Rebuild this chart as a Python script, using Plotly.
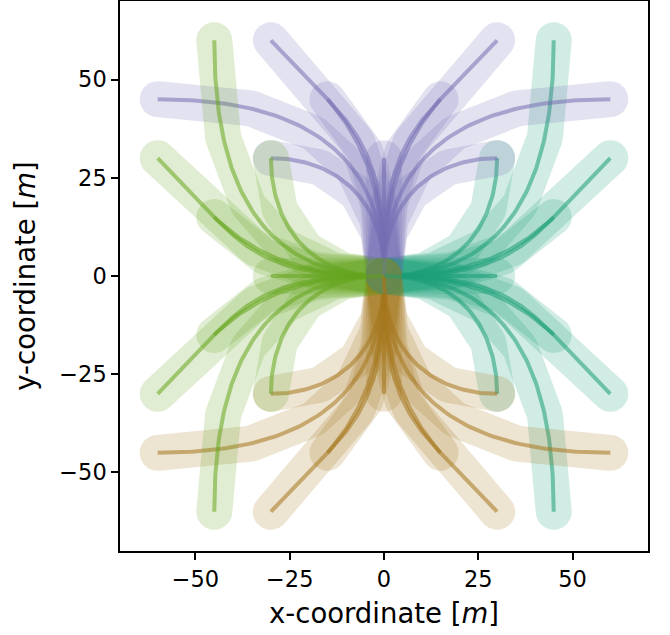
import numpy as np
import plotly.graph_objects as go

# ---- data (start position [m] and initial heading [deg]) ----
# purple group: paths entering the origin from above (final heading south)
purple_x = [-60, -30, -15, -30, 0, 30, 15, 60, 30]
purple_y = [45, 60, 45, 30, 30, 60, 45, 45, 30]
purple_heading = [0, -45, -45, 0, -90, -135, -135, 180, 180]

# green group: paths entering from the left (final heading east)
green_x = [-45, -60, -45, -30, -30, -45, -60, -45, -30]
green_y = [60, 30, 15, 30, 0, -15, -30, -60, -30]
green_heading = [-90, -45, -45, -90, 0, 45, 45, 90, 90]

# teal group: paths entering from the right (final heading west)
teal_x = [45, 60, 45, 30, 30, 45, 60, 45, 30]
teal_y = [60, 30, 15, 30, 0, -15, -30, -60, -30]
teal_heading = [-90, -135, -135, -90, 180, 135, 135, 90, 90]

# brown group: paths entering from below (final heading north)
brown_x = [-60, -30, -15, -30, 0, 30, 15, 60, 30]
brown_y = [-45, -60, -45, -30, -30, -60, -45, -45, -30]
brown_heading = [0, 45, 45, 0, 90, 135, 135, 180, 180]

group_names = ["purple", "green", "teal", "brown"]
group_final_heading = [-90, 0, 180, 90]
group_colors = [(117, 112, 179), (102, 166, 30), (27, 158, 119), (166, 118, 29)]

tick_vals = [-50, -25, 0, 25, 50]
tick_text = ["\u221250", "\u221225", "0", "25", "50"]

groups = [
    (purple_x, purple_y, purple_heading),
    (green_x, green_y, green_heading),
    (teal_x, teal_y, teal_heading),
    (brown_x, brown_y, brown_heading),
]


def path_xy(x0, y0, h0, h1, n=80):
    """Cubic Bezier from the start pose to the origin with final heading h1."""
    d = np.hypot(x0, y0)
    a = 0.33 * d
    b = 0.53 * d
    p0 = np.array([x0, y0], float)
    p3 = np.array([0.0, 0.0])
    p1 = p0 + a * np.array([np.cos(np.radians(h0)), np.sin(np.radians(h0))])
    p2 = p3 - b * np.array([np.cos(np.radians(h1)), np.sin(np.radians(h1))])
    t = np.linspace(0, 1, n)[:, None]
    pts = ((1 - t) ** 3) * p0 + 3 * ((1 - t) ** 2) * t * p1 + 3 * (1 - t) * t ** 2 * p2 + t ** 3 * p3
    return pts[:, 0], pts[:, 1]


fig = go.Figure()
n_paths = len(purple_x)
for i in range(n_paths):
    for (gx, gy, gh), h1, col, name in zip(groups, group_final_heading, group_colors, group_names):
        r, g, b = col
        px, py = path_xy(gx[i], gy[i], gh[i], h1)
        fig.add_trace(go.Scatter(x=px, y=py, mode="lines",
                                 line=dict(color=f"rgba({r},{g},{b},0.2)", width=36),
                                 hoverinfo="skip", showlegend=False, name=name))
        fig.add_trace(go.Scatter(x=px, y=py, mode="lines",
                                 line=dict(color=f"rgba({r},{g},{b},0.55)", width=4),
                                 hoverinfo="skip", showlegend=False, name=name))

axis_common = dict(
    showgrid=False, zeroline=False, showline=True, mirror=True, automargin=False,
    linecolor="black", linewidth=1.5, ticks="outside", ticklen=7, tickwidth=1.5,
    tickcolor="black", tickvals=tick_vals, ticktext=tick_text,
    tickfont=dict(family="DejaVu Sans", size=22.5, color="black"),
)
fig.update_layout(
    width=670, height=635,
    margin=dict(l=120, r=22, t=1, b=84),
    paper_bgcolor="white", plot_bgcolor="white",
    font=dict(family="DejaVu Sans", color="black"),
    xaxis=dict(range=[-70, 70],
               title=dict(text="x-coordinate [<i>m</i>]", font=dict(size=27.5), standoff=13),
               **axis_common),
    yaxis=dict(range=[-70, 70],
               title=dict(text="y-coordinate [<i>m</i>]", font=dict(size=27.5), standoff=16),
               **axis_common),
)

post = """
document.body.style.margin = '0';
document.body.style.padding = '0';
var gd = document.getElementById('{plot_id}');
function fixCaps(){
  gd.querySelectorAll('path.js-line').forEach(function(p){
    var w = parseFloat(p.style.strokeWidth);
    if (w > 10) { p.style.strokeLinecap = 'round'; p.style.strokeLinejoin = 'round'; }
  });
}
fixCaps();
if (gd.on) { gd.on('plotly_afterplot', fixCaps); }
"""
fig.write_html("out.html", post_script=post, config={"displayModeBar": False})
